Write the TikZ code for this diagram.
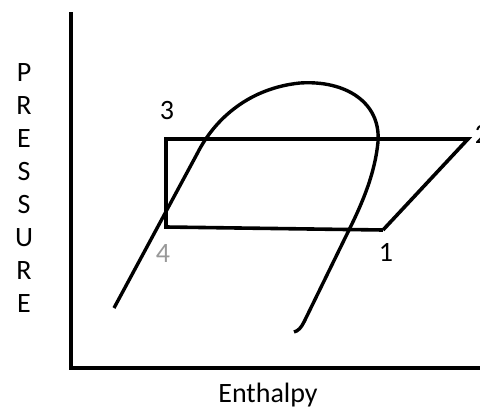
\documentclass[tikz,border=0pt]{standalone}
\usepackage{fontspec}
\setmainfont{Carlito}
\usepackage{tikz}
\usetikzlibrary{positioning}

\begin{document}
\begin{tikzpicture}[x=1pt, y=-1pt, line width=3.6pt, line join=miter,
    every node/.style={inner sep=0pt, font=\fontsize{28}{33}\selectfont}]
        \useasboundingbox (0,0) rectangle (480,410);

        % Axes
        \coordinate (top) at (71,12);
        \coordinate (origin) at (71,368);
        \coordinate (right) at (485,368);
        \draw (top) -- (origin) -- (right);

        % States of the cycle
        \coordinate (s1) at (383,230);
        \coordinate (s2) at (468,139);
        \coordinate (s3) at (166,139);
        \coordinate (s4) at (166,227);

        \node (l3) at (167,111) {3};
        \node (l2) [anchor=west] at (473,134) {2};
        \node (l1) at (386,252) {1};
        \node (l4) [text=black!40] at (163,254) {4};

        % Cycle: 1 -> 2 -> 3 -> 4 -> 1
        \draw (s1) -- (s2) -- (s3) -- (s4) -- (s1);

        % Saturation dome
        \draw[line width=3.4pt] (114,308) -- (197,154)
          .. controls (215,118) and (250,88) .. (300,83)
          .. controls (345,80) and (381,102) .. (378,142)
          .. controls (375,172) and (364,200) .. (348,232)
          -- (304,322) .. controls (301,328) and (298,331) .. (294,332);

        % Axis labels
        \node (ylabel) [align=center] at (24,188) {P\\R\\E\\S\\S\\U\\R\\E};
        \node (xlabel) at (268,395) {Enthalpy};
      \end{tikzpicture}
\end{document}
